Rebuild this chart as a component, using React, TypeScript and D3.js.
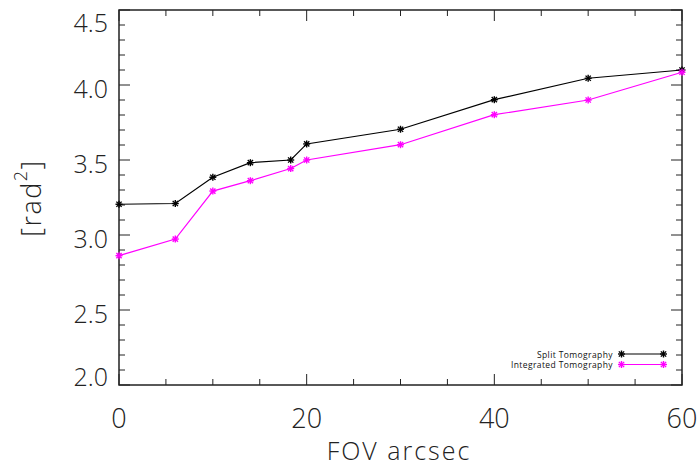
import React from "react";
import * as d3 from "d3";

const fov = [0, 6, 10, 14, 18.3, 20, 30, 40, 50, 60];
const splitTomo = [3.205, 3.21, 3.385, 3.482, 3.5, 3.607, 3.705, 3.902, 4.045, 4.1];
const integratedTomo = [2.862, 2.973, 3.293, 3.362, 3.443, 3.5, 3.602, 3.802, 3.9, 4.085];
const seriesNames = ["Split Tomography", "Integrated Tomography"];
const seriesColors = ["#000000", "#ff00ff"];
const yTicks = [2.0, 2.5, 3.0, 3.5, 4.0, 4.5];
const xTicks = [0, 20, 40, 60];

const W = 700, H = 467;
const left = 119, right = 682, top = 10, bottom = 385;
const font = "'Open Sans', 'DejaVu Sans', sans-serif";

function Star({ cx, cy, color }: { cx: number; cy: number; color: string }) {
  const r = 3.5;
  const d = r * 0.75;
  return (
    <g stroke={color} strokeWidth={1.4}>
      <line x1={cx - r} y1={cy} x2={cx + r} y2={cy} />
      <line x1={cx} y1={cy - r} x2={cx} y2={cy + r} />
      <line x1={cx - d} y1={cy - d} x2={cx + d} y2={cy + d} />
      <line x1={cx - d} y1={cy + d} x2={cx + d} y2={cy - d} />
    </g>
  );
}

export default function App() {
  const x = d3.scaleLinear().domain([0, 60]).range([left, right]);
  const y = d3.scaleLinear().domain([2.0, 4.5]).range([bottom, top]);
  const line = d3
    .line<[number, number]>()
    .x((d) => x(d[0]))
    .y((d) => y(d[1]));
  const series = [splitTomo, integratedTomo];
  const yMinor = d3.range(2.0, 4.5001, 0.1);
  const xMinor = d3.range(0, 60.001, 5);
  const axisColor = "#222";

  const legendY = [354, 364.5];
  const legendX1 = 621.5, legendX2 = 663.5, legendText = 613;

  return (
    <svg width={W} height={H} style={{ position: "absolute", left: 0, top: 0, background: "#fff" }}>
      <rect x={0} y={0} width={W} height={H} fill="#fff" />
      {yMinor.map((v, i) => {
        const isMajor = Math.abs(v * 2 - Math.round(v * 2)) < 1e-6;
        const len = isMajor ? 11 : 6;
        return (
          <g key={"ym" + i} stroke={axisColor} strokeWidth={1}>
            <line x1={left} x2={left + len} y1={y(v)} y2={y(v)} />
            <line x1={right} x2={right - len} y1={y(v)} y2={y(v)} />
          </g>
        );
      })}
      {xMinor.map((v, i) => {
        const isMajor = v % 20 === 0;
        const len = isMajor ? 11 : 6;
        return (
          <g key={"xm" + i} stroke={axisColor} strokeWidth={1}>
            <line x1={x(v)} x2={x(v)} y1={bottom} y2={bottom - len} />
            <line x1={x(v)} x2={x(v)} y1={top} y2={top + len} />
          </g>
        );
      })}
      <rect x={left} y={top} width={right - left} height={bottom - top} fill="none" stroke={axisColor} strokeWidth={1.5} />

      {yTicks.map((v, i) => {
        let off = 3;
        if (i === 0) off = -9;
        if (i === yTicks.length - 1) off = 12;
        return (
          <text key={"yt" + i} x={108} y={y(v) + off} textAnchor="end" dominantBaseline="central"
            fontFamily={font} fontWeight={300} fontSize={25} fill="#222">
            {v.toFixed(1)}
          </text>
        );
      })}
      {xTicks.map((v, i) => (
        <text key={"xt" + i} x={x(v)} y={417} textAnchor="middle" dominantBaseline="central"
          fontFamily={font} fontWeight={300} fontSize={27} fill="#222">
          {v}
        </text>
      ))}
      <text x={399} y={450} textAnchor="middle" dominantBaseline="central"
        fontFamily={font} fontWeight={300} fontSize={25} fill="#222" letterSpacing={2}>
        FOV arcsec
      </text>
      <text transform={`translate(30,198) rotate(-90)`} textAnchor="middle" dominantBaseline="central"
        fontFamily={font} fontWeight={300} fontSize={27} fill="#222" letterSpacing={1.5}>
        [rad<tspan dy={-10} fontSize={18}>2</tspan><tspan dy={10}>]</tspan>
      </text>

      {series.map((vals, si) => {
        const pts = fov.map((f, i) => [f, vals[i]] as [number, number]);
        return (
          <g key={"s" + si}>
            <path d={line(pts) || ""} fill="none" stroke={seriesColors[si]} strokeWidth={1.2} />
            {pts.map((p, i) => (
              <Star key={i} cx={x(p[0])} cy={y(p[1])} color={seriesColors[si]} />
            ))}
          </g>
        );
      })}

      {seriesNames.map((n, i) => (
        <g key={"lg" + i}>
          <text x={legendText} y={legendY[i]} textAnchor="end" dominantBaseline="central"
            fontFamily={font} fontSize={8.5} letterSpacing={0.4} fill="#111">
            {n}
          </text>
          <line x1={legendX1} x2={legendX2} y1={legendY[i]} y2={legendY[i]} stroke={seriesColors[i]} strokeWidth={1.2} />
          <Star cx={legendX1} cy={legendY[i]} color={seriesColors[i]} />
          <Star cx={legendX2} cy={legendY[i]} color={seriesColors[i]} />
        </g>
      ))}
    </svg>
  );
}
